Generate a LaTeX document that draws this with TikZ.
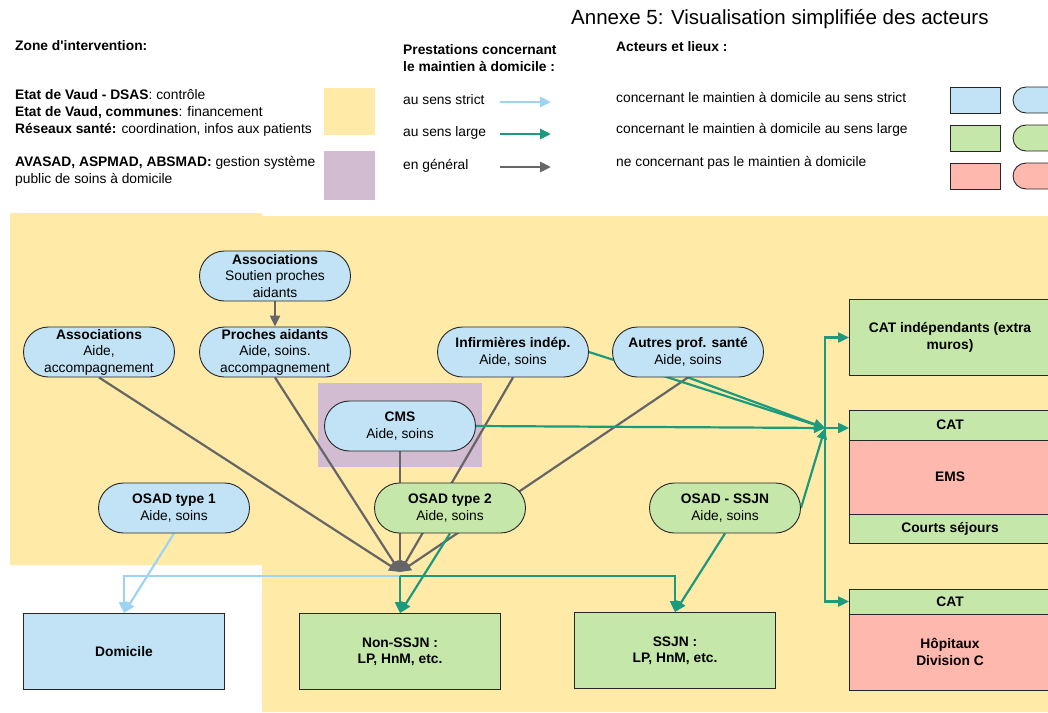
\documentclass[tikz,border=0pt]{standalone}
\usepackage{fontspec}
\setmainfont{Liberation Sans}[Ligatures=TeXOff]
\usetikzlibrary{arrows.meta}

\definecolor{zoneyellow}{HTML}{FFEAA7}
\definecolor{zonepurple}{HTML}{D1BCD2}
\definecolor{actblue}{HTML}{C1E3F5}
\definecolor{actgreen}{HTML}{C6E7AA}
\definecolor{actred}{HTML}{FFB8AD}
\definecolor{flowblue}{HTML}{9ED4F2}
\definecolor{flowgreen}{HTML}{1B9A7D}
\definecolor{flowgray}{HTML}{666666}

\pgfdeclarelayer{zone}
\pgfdeclarelayer{links}
\pgfsetlayers{zone,links,main}

\begin{document}
\begin{tikzpicture}[x=1pt, y=-1pt,
    every node/.style={font=\fontsize{13.8}{16.5}\selectfont},
    actor/.style={draw=black!85, line width=0.9pt, rounded corners=25pt, minimum width=151pt, minimum height=50pt, inner sep=0pt, align=center},
    place/.style={draw=black!85, line width=0.9pt, minimum width=201pt, inner sep=0pt, align=center, font=\fontsize{13.8}{16.5}\selectfont\bfseries},
    swatch/.style={draw=black!85, line width=0.9pt},
    legtext/.style={anchor=west, align=left, inner sep=0pt},
    legbold/.style={legtext, font=\fontsize{13.8}{17}\selectfont\bfseries},
    link/.style={line width=2.2pt, -{Triangle[length=11pt,width=10pt]}},
    strict/.style={link, flowblue},
    large/.style={link, flowgreen},
    general/.style={link, flowgray}]
    \useasboundingbox (0,0) rectangle (1048,712);
    \clip (0,0) rectangle (1048,712);

    % zones
    \begin{pgfonlayer}{zone}
    \fill[zoneyellow] (10,213) -- (262,213) -- (262,216) -- (1048,216) -- (1048,712) -- (262,712) -- (262,565) -- (10,565) -- cycle;
    \fill[zonepurple] (318,383) rectangle (482,467);
    \end{pgfonlayer}

    % legend
    \node[legtext, font=\fontsize{20.5}{24}\selectfont] (title) at (571,19) {Annexe 5: Visualisation simplifiée des acteurs};
    \node[legbold] (zonetitle) at (15,46) {Zone d'intervention:};
    \node[legtext, font=\fontsize{13.8}{17}\selectfont] (zonevaud) at (15,113) {\textbf{Etat de Vaud - DSAS}: contrôle\\\textbf{Etat de Vaud, communes}: financement\\\textbf{Réseaux santé:} coordination, infos aux patients};
    \node[legtext] (zoneavasad) at (15,171.5) {\textbf{AVASAD, ASPMAD, ABSMAD:} gestion système\\public de soins à domicile};
    \fill[zoneyellow] (324,88) rectangle (375,135);
    \fill[zonepurple] (324,151) rectangle (375,200);

    \node[legbold] (prestitle) at (403,58.5) {Prestations concernant\\le maintien à domicile :};
    \node[legtext] (legstrict) at (403,100) {au sens strict};
    \node[legtext] (leglarge) at (403,133) {au sens large};
    \node[legtext] (leggeneral) at (403,166) {en général};
    \coordinate (strictA) at (500,102);
    \coordinate (strictB) at (551,102);
    \coordinate (largeA) at (500,134);
    \coordinate (largeB) at (551,134);
    \coordinate (generalA) at (500,167);
    \coordinate (generalB) at (551,167);
    \draw[strict, line width=2.8pt] (strictA) -- (strictB);
    \draw[large, line width=2.8pt] (largeA) -- (largeB);
    \draw[general, line width=2.8pt] (generalA) -- (generalB);

    \node[legbold] (acttitle) at (616,47) {Acteurs et lieux :};
    \node[legtext] (actstrict) at (616,97) {concernant le maintien à domicile au sens strict};
    \node[legtext] (actlarge) at (616,130) {concernant le maintien à domicile au sens large};
    \node[legtext] (actnone) at (616,163) {ne concernant pas le maintien à domicile};
    \draw[swatch, fill=actblue] (950,87) rectangle (1000,113);
    \draw[swatch, fill=actblue, rounded corners=13pt] (1013,87) rectangle (1075,113);
    \draw[swatch, fill=actgreen] (950,125) rectangle (1000,151);
    \draw[swatch, fill=actgreen, rounded corners=13pt] (1013,125) rectangle (1075,151);
    \draw[swatch, fill=actred] (950,163) rectangle (1000,189);
    \draw[swatch, fill=actred, rounded corners=13pt] (1013,163) rectangle (1075,189);

    % actors
    \node[actor, fill=actblue] (soutien) at (275,276) {\textbf{Associations}\\Soutien proches\\aidants};
    \node[actor, fill=actblue] (assocaide) at (99,352) {\textbf{Associations}\\Aide,\\accompagnement};
    \node[actor, fill=actblue] (proches) at (275,352) {\textbf{Proches aidants}\\Aide, soins.\\accompagnement};
    \node[actor, fill=actblue] (infirm) at (513,352) {\textbf{Infirmières indép.}\\Aide, soins};
    \node[actor, fill=actblue] (autres) at (688,352) {\textbf{Autres prof. santé}\\Aide, soins};
    \node[actor, fill=actblue] (cms) at (400,426) {\textbf{CMS}\\Aide, soins};
    \node[actor, fill=actblue] (osadun) at (174,508) {\textbf{OSAD type 1}\\Aide, soins};
    \node[actor, fill=actgreen] (osaddeux) at (450,508) {\textbf{OSAD type 2}\\Aide, soins};
    \node[actor, fill=actgreen] (osadssjn) at (725,508) {\textbf{OSAD - SSJN}\\Aide, soins};

    % places
    \node[place, fill=actblue, minimum height=76pt] (domicile) at (124,651.5) {Domicile};
    \node[place, fill=actgreen, minimum height=76pt] (nonssjn) at (400,651.5) {Non-SSJN :\\LP, HnM, etc.};
    \node[place, fill=actgreen, minimum height=76pt] (ssjn) at (675,650.5) {SSJN :\\LP, HnM, etc.};
    \node[place, fill=actgreen, minimum height=76pt] (catind) at (950,337.5) {CAT indépendants (extra\\muros)};
    \node[place, fill=actgreen, minimum height=30pt] (catems) at (950,425) {CAT};
    \node[place, fill=actred, minimum height=74pt] (ems) at (950,477) {EMS};
    \node[place, fill=actgreen, minimum height=29pt] (courts) at (950,528.5) {Courts séjours};
    \node[place, fill=actgreen, minimum height=25pt] (cathop) at (950,601.5) {CAT};
    \node[place, fill=actred, minimum height=76pt] (hopitaux) at (950,652) {Hôpitaux\\Division C};

    % connectors
    \begin{pgfonlayer}{links}
    \coordinate (hub) at (400,572);
    \coordinate (hubout) at (400,576);
    \coordinate (rhub) at (825,428);
    \draw[general] (soutien) -- (proches);
    \foreach \src in {assocaide, proches, cms, infirm, autres}
        \draw[general] (\src.south) -- (hub);

    \draw[large] (infirm.east) -- (rhub);
    \draw[large] (autres.south) -- (rhub);
    \draw[large] (cms.east) -- (rhub);
    \draw[large] (osadssjn.east) -- (rhub);
    \draw[large] (rhub) |- (catind.west);
    \draw[large] (rhub) -- (rhub -| catems.west);
    \draw[large] (rhub) |- (cathop.west);

    \draw[strict] (hubout) -| (domicile.north);
    \draw[strict] (osadun.south) -- (domicile.north);
    \draw[large] (hubout) -- (nonssjn.north);
    \draw[large] (osaddeux.south) -- (nonssjn.north);
    \draw[large] (hubout) -| (ssjn.north);
    \draw[large] (osadssjn.south) -- (ssjn.north);
    \end{pgfonlayer}
\end{tikzpicture}
\end{document}
